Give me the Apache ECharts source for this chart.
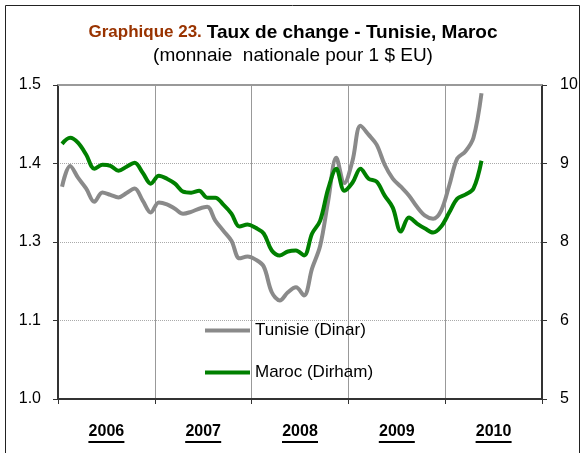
<!DOCTYPE html>
<html>
<head>
<meta charset="utf-8">
<script src="https://cdn.jsdelivr.net/npm/echarts@6/dist/echarts.min.js"></script>
<style>
  html, body { margin: 0; padding: 0; background: #fff; }
  #chart { width: 586px; height: 453px; }
</style>
</head>
<body>
<div id="chart"></div>
<script>
var years = ['2006', '2007', '2008', '2009', '2010'];
var months = [];
years.forEach(function (y) {
    for (var m = 1; m <= 12; m++) {
        months.push(y + '-' + (m < 10 ? '0' + m : m));
    }
});

// Jan 2006 - May 2010, monthly
var tunisie = [1.338, 1.371, 1.352, 1.335, 1.314, 1.329, 1.325, 1.321, 1.328, 1.335, 1.316, 1.297,
    1.313, 1.310, 1.303, 1.295, 1.298, 1.303, 1.306, 1.284, 1.268, 1.252, 1.224, 1.227,
    1.222, 1.211, 1.170, 1.157, 1.170, 1.178, 1.165, 1.208, 1.244, 1.316, 1.384, 1.344,
    1.379, 1.435, 1.421, 1.405, 1.373, 1.351, 1.338, 1.324, 1.306, 1.292, 1.287, 1.300,
    1.340, 1.383, 1.394, 1.416, 1.487];
var maroc = [9.063, 9.159, 9.079, 8.889, 8.667, 8.730, 8.714, 8.635, 8.698, 8.762, 8.603, 8.429,
    8.556, 8.508, 8.429, 8.302, 8.286, 8.317, 8.206, 8.206, 8.095, 7.952, 7.746, 7.778,
    7.725, 7.635, 7.365, 7.286, 7.349, 7.365, 7.286, 7.635, 7.841, 8.349, 8.667, 8.317,
    8.444, 8.667, 8.508, 8.460, 8.238, 8.048, 7.667, 7.889, 7.794, 7.714, 7.651, 7.746,
    7.968, 8.190, 8.254, 8.349, 8.794];

var chart = echarts.init(document.getElementById('chart'));

var option = {
    textStyle: { fontFamily: '"Liberation Sans", Arial, sans-serif' },
    animation: false,
    title: [{
        text: '{a|Graphique 23.} {b|Taux de change - Tunisie, Maroc}',
        left: 'center',
        top: 18,
        textStyle: {
            rich: {
                a: { color: '#993300', fontSize: 17, fontWeight: 'bold' },
                b: { color: '#000', fontSize: 19, fontWeight: 'bold' }
            }
        }
    }, {
        text: '(monnaie  nationale pour 1 $ EU)',
        left: 'center',
        top: 41,
        textStyle: { color: '#000', fontSize: 19, fontWeight: 'normal' }
    }],
    graphic: [{
        type: 'rect',
        shape: { x: 5.5, y: 5.5, width: 574, height: 470 },
        style: { fill: 'none', stroke: '#222', lineWidth: 1 },
        silent: true
    }],
    legend: {
        orient: 'vertical',
        left: 200,
        top: 317,
        icon: 'rect',
        itemWidth: 45,
        itemHeight: 4,
        itemGap: 25,
        textStyle: { fontSize: 17, color: '#000' },
        data: ['Tunisie (Dinar)', 'Maroc (Dirham)']
    },
    grid: { left: 58, right: 44, top: 85, bottom: 54, containLabel: false },
    xAxis: [{
        type: 'category',
        data: years,
        position: 'bottom',
        boundaryGap: true,
        axisLine: { lineStyle: { color: '#333', width: 2 } },
        axisTick: { show: true, length: 5, lineStyle: { color: '#333' } },
        splitLine: { show: true, lineStyle: { color: '#999', width: 1 } },
        axisLabel: {
            margin: 24,
            formatter: function (v) { return '{y|' + v + '}\n{u| }'; },
            rich: {
                y: { fontSize: 16, fontWeight: 'bold', color: '#000', lineHeight: 18 },
                u: { width: 36, height: 2, lineHeight: 2, backgroundColor: '#000' }
            }
        }
    }, {
        type: 'category',
        data: months,
        position: 'top',
        boundaryGap: true,
        axisLine: { show: true, lineStyle: { color: '#999', width: 2 } },
        axisTick: { show: false },
        axisLabel: { show: false },
        splitLine: { show: false }
    }],
    yAxis: [{
        type: 'value',
        min: 1.0,
        max: 1.5,
        interval: 0.125,
        axisLine: { show: true, lineStyle: { color: '#333', width: 2 } },
        axisTick: { show: true, length: 5, lineStyle: { color: '#333' } },
        splitLine: { show: true, lineStyle: { color: '#aaa', type: 'dotted' } },
        axisLabel: {
            fontSize: 16, color: '#000', margin: 17,
            formatter: function (v) { return v.toFixed(1); }
        }
    }, {
        type: 'value',
        min: 5,
        max: 10,
        interval: 1.25,
        position: 'right',
        axisLine: { show: true, lineStyle: { color: '#333', width: 2 } },
        axisTick: { show: true, length: 5, lineStyle: { color: '#333' } },
        splitLine: { show: false },
        axisLabel: {
            fontSize: 16, color: '#000', margin: 18,
            formatter: function (v) { return v.toFixed(0); }
        }
    }],
    series: [{
        name: 'Tunisie (Dinar)',
        type: 'line',
        xAxisIndex: 1,
        yAxisIndex: 0,
        data: tunisie,
        smooth: 0.35,
        symbol: 'none',
        itemStyle: { color: '#8a8a8a' },
        lineStyle: { color: '#8a8a8a', width: 4 }
    }, {
        name: 'Maroc (Dirham)',
        type: 'line',
        xAxisIndex: 1,
        yAxisIndex: 1,
        data: maroc,
        smooth: 0.35,
        symbol: 'none',
        itemStyle: { color: '#008000' },
        lineStyle: { color: '#008000', width: 4 }
    }]
};

chart.setOption(option);
</script>
</body>
</html>
